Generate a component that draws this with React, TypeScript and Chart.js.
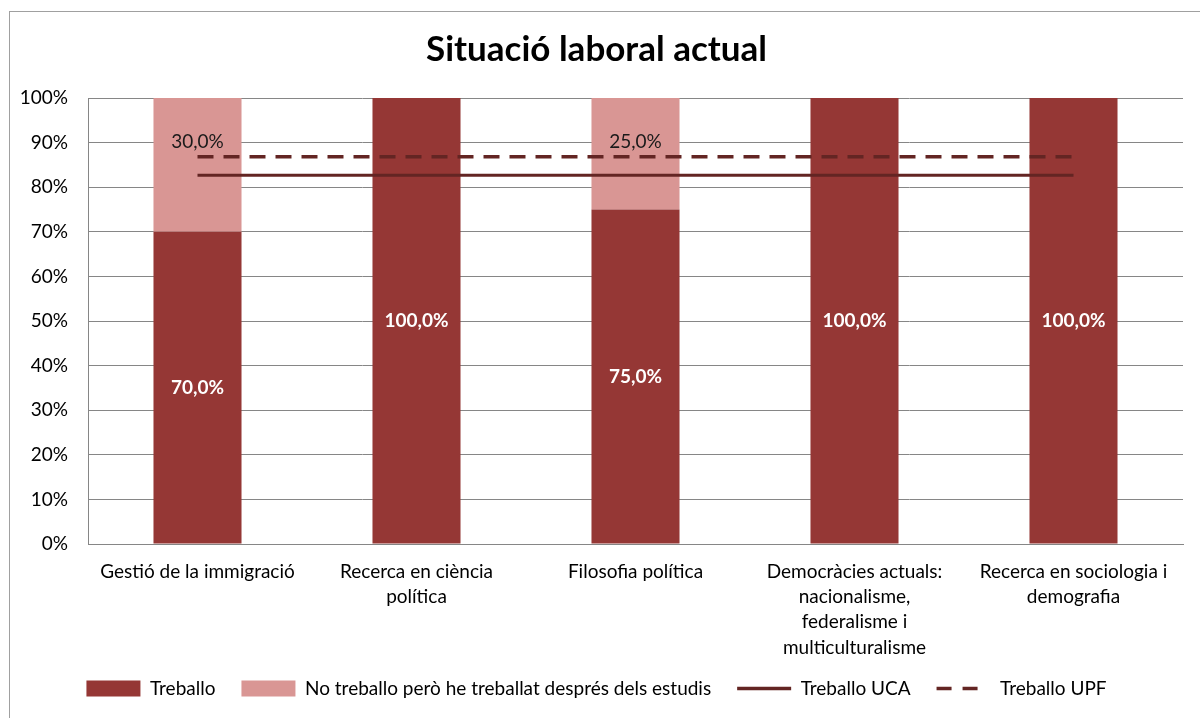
import React, { useEffect, useRef } from "react";
import { Chart, registerables } from "chart.js";

Chart.register(...registerables);

const categories: (string | string[])[] = [
  "Gestió de la immigració",
  ["Recerca en ciència", "política"],
  "Filosofia política",
  ["Democràcies actuals:", "nacionalisme,", "federalisme i", "multiculturalisme"],
  ["Recerca en sociologia i", "demografia"],
];

const treballo = [70, 100, 75, 100, 100];
const noTreballo = [30, 0, 25, 0, 0];
const treballoUCA = [82.7, 82.7, 82.7, 82.7, 82.7];
const treballoUPF = [86.8, 86.8, 86.8, 86.8, 86.8];

const seriesNames = [
  "Treballo",
  "No treballo però he treballat després dels estudis",
  "Treballo UCA",
  "Treballo UPF",
];

const yTicks = [0, 10, 20, 30, 40, 50, 60, 70, 80, 90, 100];

const FONT = "Lato, 'Open Sans', sans-serif";
const DARK = "#953735";
const LIGHT = "#D99694";
const LINE = "#632523";

const fmt = (v: number) => v.toFixed(1).replace(".", ",") + "%";

const labelPlugin = {
  id: "barLabels",
  afterLayout(chart: any) {
    // let multi-line category labels extend below the axis box
    if (chart.scales.x) chart.scales.x._computeLabelArea = () => undefined;
  },
  afterDatasetsDraw(chart: any) {
    const ctx = chart.ctx;
    ctx.save();
    ctx.textAlign = "center";
    ctx.textBaseline = "middle";
    chart.data.datasets.forEach((ds: any, di: number) => {
      if (ds.type !== "bar") return;
      const meta = chart.getDatasetMeta(di);
      meta.data.forEach((el: any, i: number) => {
        const v = ds.data[i];
        if (!v) return;
        if (di === 0) {
          ctx.fillStyle = "#ffffff";
          ctx.font = `bold 19px ${FONT}`;
          ctx.fillText(fmt(v), el.x, (el.y + el.base) / 2);
        } else {
          ctx.fillStyle = "#1a1a1a";
          ctx.font = `19px ${FONT}`;
          ctx.fillText(fmt(v), el.x, el.y + 44);
        }
      });
    });
    ctx.restore();
  },
};

export default function App() {
  const ref = useRef<HTMLCanvasElement | null>(null);

  useEffect(() => {
    if (!ref.current) return;
    const chart = new Chart(ref.current, {
      type: "bar",
      data: {
        labels: categories as any,
        datasets: [
          {
            type: "bar",
            label: seriesNames[0],
            data: treballo,
            backgroundColor: DARK,
            stack: "bars",
            order: 1,
            categoryPercentage: 1,
            barPercentage: 0.402,
          },
          {
            type: "bar",
            label: seriesNames[1],
            data: noTreballo,
            backgroundColor: LIGHT,
            stack: "bars",
            order: 1,
            categoryPercentage: 1,
            barPercentage: 0.402,
          },
          {
            type: "line",
            label: seriesNames[2],
            data: treballoUCA,
            borderColor: LINE,
            backgroundColor: LINE,
            borderWidth: 3,
            pointRadius: 0,
            stack: "uca",
            order: 0,
          },
          {
            type: "line",
            label: seriesNames[3],
            data: treballoUPF,
            borderColor: LINE,
            backgroundColor: LINE,
            borderWidth: 3.5,
            borderDash: [16, 10],
            pointRadius: 0,
            stack: "upf",
            order: 0,
          },
        ] as any,
      },
      options: {
        animation: false,
        responsive: false,
        devicePixelRatio: 1,
        layout: { padding: { left: 0, right: 17, top: 0, bottom: 10 } },
        scales: {
          x: {
            stacked: true,
            grid: { display: false, drawTicks: false },
            border: { display: true, color: "#868686", width: 1 },
            ticks: {
              color: "#000",
              font: { family: FONT, size: 19, lineHeight: 1.33 },
              padding: 15,
              maxRotation: 0,
              autoSkip: false,
            },
            afterFit: (s: any) => {
              s.height = 109;
            },
          },
          y: {
            stacked: true,
            min: 0,
            max: 100,
            afterBuildTicks: (s: any) => {
              s.ticks = yTicks.map((v) => ({ value: v }));
            },
            grid: { color: "#868686", drawTicks: false },
            border: { display: true, color: "#868686", width: 1 },
            ticks: {
              color: "#000",
              font: { family: FONT, size: 19 },
              padding: 20,
              callback: (v: any) => v + "%",
            },
            afterFit: (s: any) => {
              s.width = 78;
            },
          },
        },
        plugins: {
          tooltip: { enabled: false },
          title: {
            display: true,
            text: "Situació laboral actual",
            color: "#000",
            font: { family: FONT, size: 35, weight: "bold", lineHeight: 1.2 },
            padding: { top: 17, bottom: 27 },
          },
          legend: {
            display: true,
            position: "bottom",
            labels: {
              color: "#000",
              font: { family: FONT, size: 19 },
              usePointStyle: true,
              pointStyleWidth: 54,
              boxHeight: 16,
              padding: 26,
              sort: (a: any, b: any) => a.datasetIndex - b.datasetIndex,
              generateLabels: (c: any) => {
                const items = (Chart.defaults.plugins.legend.labels as any).generateLabels(c);
                items.forEach((it: any) => {
                  const ds = c.data.datasets[it.datasetIndex];
                  if (ds.type === "line") {
                    it.pointStyle = "line";
                    it.lineWidth = 3.5;
                    it.lineDash = ds.borderDash ? [15, 11, 15, 13] : [];
                    it.strokeStyle = ds.borderColor;
                    it.fillStyle = ds.borderColor;
                  } else {
                    it.pointStyle = "rect";
                    it.lineWidth = 0;
                    it.fillStyle = ds.backgroundColor;
                    it.strokeStyle = ds.backgroundColor;
                  }
                });
                return items;
              },
            },
          },
        },
      } as any,
      plugins: [labelPlugin],
    });
    return () => chart.destroy();
  }, []);

  return (
    <div style={{ position: "fixed", left: 0, top: 0, width: 1200, height: 718, overflow: "hidden", background: "#fff" }}>
      <div
        style={{
          position: "absolute",
          left: 9,
          top: 11,
          width: 1200,
          height: 720,
          border: "1px solid #a0a0a0",
          boxSizing: "content-box",
        }}
      >
        <canvas ref={ref} width={1190} height={706} style={{ display: "block", width: 1190, height: 706 }} />
      </div>
    </div>
  );
}
